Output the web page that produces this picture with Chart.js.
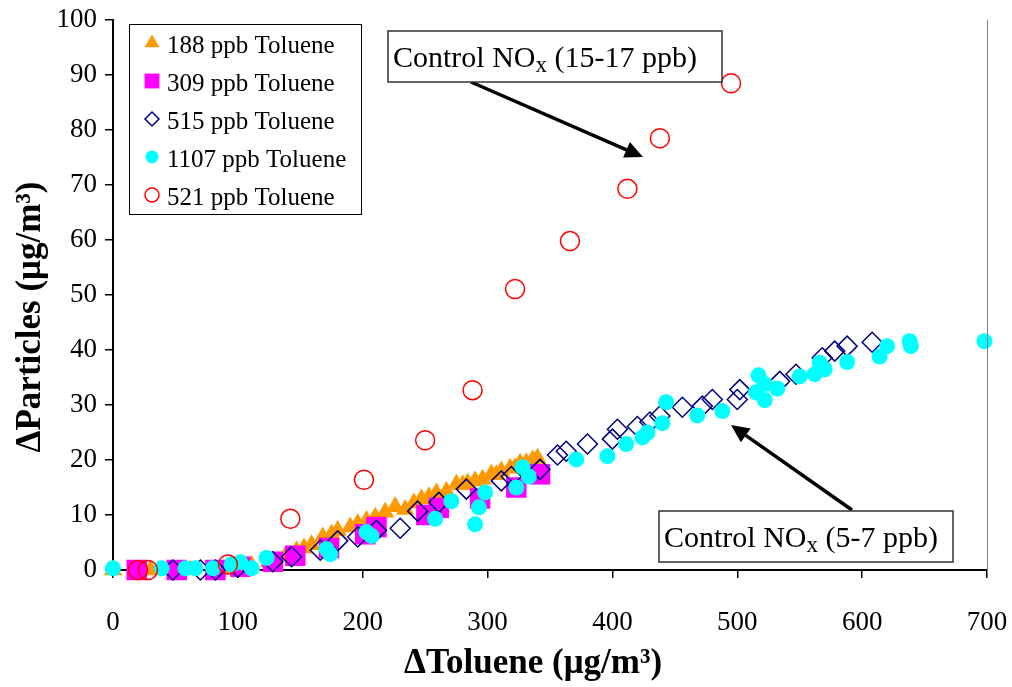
<!DOCTYPE html>
<html>
<head>
<meta charset="utf-8">
<script src="https://cdn.jsdelivr.net/npm/chart.js@4.4.0/dist/chart.umd.min.js"></script>
<style>
  html, body { margin: 0; padding: 0; background: #fff; }
</style>
</head>
<body>
<canvas id="myScatter" width="1012" height="687"></canvas>
<script>
// series labels, same order as the legend
const seriesNames = ["188 ppb Toluene", "309 ppb Toluene", "515 ppb Toluene", "1107 ppb Toluene", "521 ppb Toluene"];

// [dToluene, dParticles] pairs
const toluene188 = [
  [0, 0], [30, 0], [62, 0], [90, 0.2], [111, 0.8], [125, 1.5], [138, 2.5], [147, 3.5], [153, 4],
  [159, 4.6], [168, 6], [175, 6.5], [180, 7.2], [190, 7.8], [196, 8.4], [203, 9], [210, 9.6],
  [218, 10.5], [226, 11.5], [234, 11], [241, 12.2], [247, 12.9], [253, 13.3], [259, 14], [267, 14.3],
  [275, 15.6], [280, 15.5], [284, 15.8], [290, 16.2], [296, 16.5], [303, 17.4], [307, 17.3],
  [311, 18], [318, 18.5], [322, 18.6], [326, 19.4], [331, 19.5], [336, 20], [340, 20.3]
];
const toluene309 = [
  [19, 0], [51, 0], [82, 0], [102, 0.6], [128, 1.5], [146, 2.6], [173, 4], [202, 6.5], [211, 7.8],
  [251, 10], [261, 11.3], [294, 13], [323, 15], [342, 17.4]
];
const toluene515 = [
  [48, 0], [70, 0], [82, 0], [100, 0.5], [128, 1.5], [143, 2.4], [166, 3.6], [180, 5.3], [196, 6],
  [211, 7.2], [230, 7.6], [244, 10.7], [261, 12.3], [283, 14.7], [311, 16.2], [319, 17], [342, 18.3],
  [356, 20.9], [363, 21.6], [380, 22.9], [400, 23.8], [404, 25.6], [420, 26.1], [430, 26.9], [438, 28],
  [456, 29.6], [472, 29.8], [480, 31], [500, 31], [502, 32.8], [534, 34.3], [547, 35.6], [568, 38.6],
  [578, 39.8], [588, 40.7], [608, 41.4]
];
const toluene1107 = [
  [0, 0.3], [39, 0.3], [58, 0.3], [66, 0.3], [80, 0.3], [95, 1], [102, 1.4], [111, 0.3], [123, 2.2],
  [171, 3.8], [174, 2.9], [203, 6.9], [207, 6.2], [258, 9.3], [271, 12.5], [290, 8.3], [293, 11.4],
  [298, 14.1], [323, 15], [328, 18.7], [333, 17], [371, 20.1], [396, 20.7], [411, 22.9], [424, 24.1],
  [428, 25], [440, 26.7], [443, 30.5], [468, 28.1], [488, 28.9], [515, 32.3], [517, 35.4], [522, 33.8],
  [522, 30.9], [532, 33], [550, 35.2], [562, 35.6], [566, 37.7], [570, 36.5], [588, 37.8], [614, 38.8],
  [620, 40.7], [638, 41.6], [639, 40.7], [698, 41.6]
];
const toluene521 = [
  [20, 0], [28, 0], [92, 1], [142, 9.3], [201, 16.4], [250, 23.6], [288, 32.7], [322, 51.1],
  [366, 59.8], [412, 69.3], [438, 78.5], [495, 88.5]
];

const xTicks = [0, 100, 200, 300, 400, 500, 600, 700];
const yTicks = [0, 10, 20, 30, 40, 50, 60, 70, 80, 90, 100];

const xTitle = "\u0394Toluene (\u03bcg/m\u00b3)";
const yTitle = "\u0394Particles (\u03bcg/m\u00b3)";

const toPoints = arr => arr.map(p => ({ x: p[0], y: p[1] }));

const serif = "'Liberation Serif', 'Times New Roman', serif";

// axis titles, legend box, arrows and text boxes
const overlay = {
  id: "overlay",
  afterDraw(chart) {
    const ctx = chart.ctx;
    const area = chart.chartArea;
    ctx.save();

    // right edge of plot area
    ctx.strokeStyle = "#808080";
    ctx.lineWidth = 1;
    ctx.beginPath();
    ctx.moveTo(area.right + 0.5, area.top);
    ctx.lineTo(area.right + 0.5, area.bottom);
    ctx.stroke();

    // axis titles
    ctx.fillStyle = "#000";
    ctx.font = "bold 35px " + serif;
    ctx.textAlign = "center";
    ctx.textBaseline = "middle";
    ctx.fillText(xTitle, 533, 664);
    ctx.save();
    ctx.translate(31, 317);
    ctx.rotate(-Math.PI / 2);
    ctx.fillText(yTitle, 0, 0);
    ctx.restore();

    // legend
    ctx.fillStyle = "#fff";
    ctx.fillRect(129, 24, 232, 190);
    ctx.strokeStyle = "#000";
    ctx.lineWidth = 1;
    ctx.strokeRect(129.5, 24.5, 232, 190);
    const legendR = [8.5, 10.5, 7, 6.5, 7];
    chart.data.datasets.forEach((ds, i) => {
      const base = 53 + i * 38;
      ctx.fillStyle = ds.backgroundColor;
      ctx.strokeStyle = ds.borderColor;
      ctx.lineWidth = ds.borderWidth;
      Chart.helpers.drawPoint(ctx, {
        pointStyle: ds.pointStyle, radius: legendR[i], borderWidth: ds.borderWidth, rotation: 0
      }, 152, base - 10);
      ctx.fillStyle = "#000";
      ctx.font = "25px " + serif;
      ctx.textAlign = "left";
      ctx.textBaseline = "alphabetic";
      ctx.fillText(ds.label, 167, base);
    });

    const arrow = (x1, y1, x2, y2) => {
      const ang = Math.atan2(y2 - y1, x2 - x1);
      const len = 18, half = 8.5;
      const bx = x2 - Math.cos(ang) * len, by = y2 - Math.sin(ang) * len;
      ctx.strokeStyle = "#000";
      ctx.fillStyle = "#000";
      ctx.lineWidth = 3.5;
      ctx.beginPath();
      ctx.moveTo(x1, y1);
      ctx.lineTo(bx, by);
      ctx.stroke();
      ctx.beginPath();
      ctx.moveTo(x2, y2);
      ctx.lineTo(bx + Math.sin(ang) * half, by - Math.cos(ang) * half);
      ctx.lineTo(bx - Math.sin(ang) * half, by + Math.cos(ang) * half);
      ctx.closePath();
      ctx.fill();
    };

    const noteBox = (x, y, w, h, range) => {
      ctx.fillStyle = "#fff";
      ctx.fillRect(x, y, w, h);
      ctx.strokeStyle = "#333";
      ctx.lineWidth = 1.5;
      ctx.strokeRect(x, y, w, h);
      ctx.fillStyle = "#000";
      ctx.textBaseline = "alphabetic";
      ctx.textAlign = "left";
      let tx = x + 5;
      const ty = y + 36;
      ctx.font = "30px " + serif;
      ctx.fillText("Control NO", tx, ty);
      tx += ctx.measureText("Control NO").width;
      ctx.font = "23px " + serif;
      ctx.fillText("x", tx, ty + 5);
      tx += ctx.measureText("x").width;
      ctx.font = "30px " + serif;
      ctx.fillText(" (" + range + ")", tx, ty);
    };

    arrow(471, 82, 643, 157);
    noteBox(388, 31, 334, 51, "15-17 ppb");
    arrow(852, 510, 731, 425);
    noteBox(659, 511, 294, 51, "5-7 ppb");

    ctx.restore();
  }
};

const ctx = document.getElementById("myScatter").getContext("2d");
new Chart(ctx, {
  type: "scatter",
  data: {
    datasets: [
      {
        label: seriesNames[0], data: toPoints(toluene188), pointStyle: "triangle", pointRadius: 10.5,
        backgroundColor: "#FF9900", borderColor: "#FF9900", borderWidth: 0, order: 5
      },
      {
        label: seriesNames[1], data: toPoints(toluene309), pointStyle: "rect", pointRadius: 14.5,
        backgroundColor: "#FF00FF", borderColor: "#FF00FF", borderWidth: 0, order: 4
      },
      {
        label: seriesNames[2], data: toPoints(toluene515), pointStyle: "rectRot", pointRadius: 10,
        backgroundColor: "rgba(0,0,0,0)", borderColor: "#000080", borderWidth: 1.5, order: 3
      },
      {
        label: seriesNames[3], data: toPoints(toluene1107), pointStyle: "circle", pointRadius: 8,
        backgroundColor: "#00FFFF", borderColor: "#00FFFF", borderWidth: 0, order: 2
      },
      {
        label: seriesNames[4], data: toPoints(toluene521), pointStyle: "circle", pointRadius: 9.5,
        backgroundColor: "rgba(0,0,0,0)", borderColor: "#FF0000", borderWidth: 1.5, order: 1
      }
    ].map(d => Object.assign(d, { showLine: false, clip: false, pointHoverRadius: d.pointRadius }))
  },
  options: {
    responsive: false,
    animation: false,
    devicePixelRatio: 1,
    layout: { padding: { top: 20, right: 25, left: 0, bottom: 0 } },
    plugins: {
      legend: { display: false },
      tooltip: { enabled: false }
    },
    scales: {
      x: {
        type: "linear",
        min: 0,
        max: 700,
        afterBuildTicks: s => { s.ticks = xTicks.map(v => ({ value: v })); },
        afterFit: s => { s.height = 117; s.paddingLeft = 0; s.paddingRight = 0; },
        ticks: { color: "#000", font: { family: serif, size: 27 }, padding: 29, maxRotation: 0 },
        grid: { drawOnChartArea: false, drawTicks: true, tickLength: 8, color: "#000", lineWidth: 1.5 },
        border: { display: true, color: "#000", width: 2 },
        title: { display: false, text: xTitle }
      },
      y: {
        type: "linear",
        min: 0,
        max: 100,
        afterBuildTicks: s => { s.ticks = yTicks.map(v => ({ value: v })); },
        afterFit: s => { s.width = 113; s.paddingTop = 0; s.paddingBottom = 0; },
        ticks: { color: "#000", font: { family: serif, size: 27 }, padding: 8 },
        grid: { drawOnChartArea: false, drawTicks: true, tickLength: 8, color: "#000", lineWidth: 1.5 },
        border: { display: true, color: "#000", width: 2 },
        title: { display: false, text: yTitle }
      }
    }
  },
  plugins: [overlay]
});
</script>
</body>
</html>
